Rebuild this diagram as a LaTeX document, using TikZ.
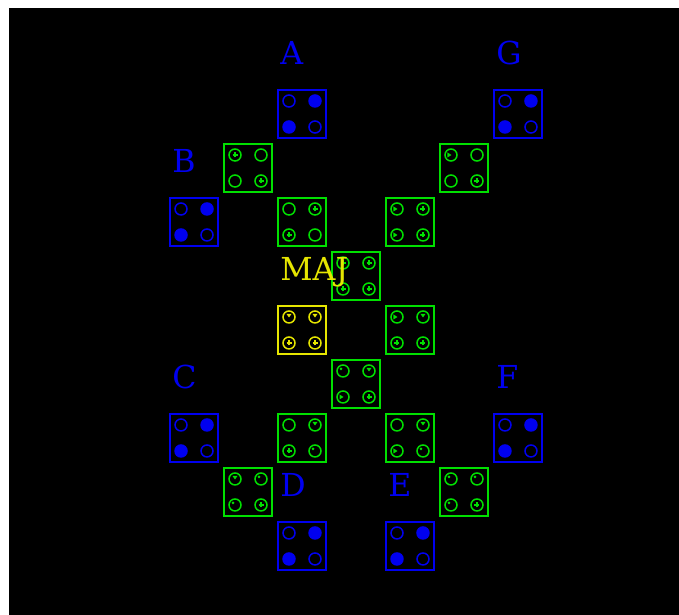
\documentclass[tikz,border=0pt]{standalone}
\usepackage{fontspec}
\setmainfont{DejaVu Serif}
\usetikzlibrary{positioning}
\definecolor{qca-blue}{HTML}{0000F0}
\definecolor{qca-green}{HTML}{00E000}
\definecolor{qca-yellow}{HTML}{E6E600}

\tikzset{
  cellbox/.style={draw, line width=1.2pt, minimum size=0.96cm, inner sep=0pt},
  dotring/.style={line width=0.85pt},
  celllabel/.style={font=\fontsize{18}{18}\selectfont, anchor=base west, inner sep=0pt},
  % one dot of a cell, with its small mark
  mk-0/.pic={\draw[dotring] (0,0) circle (0.12cm);},
  mk-f/.pic={\fill (0,0) circle (0.135cm);},
  mk-p/.pic={\draw[dotring] (0,0) circle (0.12cm);
             \draw[line width=0.7pt] (-0.05cm,0) -- (0.05cm,0) (0,-0.05cm) -- (0,0.05cm);},
  mk-d/.pic={\draw[dotring] (0,0) circle (0.12cm);
             \fill (-0.05cm,0.06cm) -- (0.05cm,0.06cm) -- (0,-0.01cm) -- cycle;},
  mk-r/.pic={\draw[dotring] (0,0) circle (0.12cm);
             \fill (-0.07cm,0.05cm) -- (-0.07cm,-0.05cm) -- (0.01cm,0) -- cycle;},
  mk-o/.pic={\draw[dotring] (0,0) circle (0.12cm);
             \fill (-0.04cm,0.04cm) circle (0.03cm);},
}

\begin{document}
\begin{tikzpicture}[x=1.08cm, y=1.08cm]
  % Grid: one unit = one cell pitch, column i at x=i, row j at y=-j
  %   cell (0,0) is B's column / A's row
  \fill[black] (-3.426,1.963) rectangle (8.982,-9.278);
  \useasboundingbox (-3.593,2.111) rectangle (8.982,-9.278);

  % cells: name / column / row / colour / marks (TL, TR, BL, BR)
  \foreach \name/\i/\j/\col/\marks in {
      A/2/0/qca-blue/{0,f,f,0},
      G/6/0/qca-blue/{0,f,f,0},
      c11/1/1/qca-green/{p,0,0,p},
      c51/5/1/qca-green/{r,0,0,p},
      B/0/2/qca-blue/{0,f,f,0},
      c22/2/2/qca-green/{0,p,p,0},
      c42/4/2/qca-green/{r,p,r,p},
      c33/3/3/qca-green/{p,p,p,p},
      maj/2/4/qca-yellow/{d,d,p,p},
      c44/4/4/qca-green/{r,d,p,p},
      c35/3/5/qca-green/{o,d,r,p},
      C/0/6/qca-blue/{0,f,f,0},
      c26/2/6/qca-green/{0,d,p,o},
      c46/4/6/qca-green/{0,d,r,o},
      F/6/6/qca-blue/{0,f,f,0},
      c17/1/7/qca-green/{d,o,o,p},
      c57/5/7/qca-green/{o,o,o,p},
      D/2/8/qca-blue/{0,f,f,0},
      E/4/8/qca-blue/{0,f,f,0}} {
    \node[cellbox, draw=\col] (\name) at (\i,-\j) {};
    \foreach \m [count=\k] in \marks {
      \pgfmathsetmacro\dx{mod(\k,2)==1 ? -0.26 : 0.26}
      \pgfmathsetmacro\dy{\k<3 ? 0.26 : -0.26}
      \pic[color=\col] at ([shift={(\dx cm,\dy cm)}]\name.center) {mk-\m};
    }
  }

  % labels sit above the top left corner of their cell
  \foreach \name/\txt/\col in {A/A/qca-blue, G/G/qca-blue, B/B/qca-blue,
      C/C/qca-blue, F/F/qca-blue, D/D/qca-blue, E/E/qca-blue, maj/MAJ/qca-yellow} {
    \node[celllabel, text=\col] (l\name) at ([shift={(0.06cm,0.49cm)}]\name.north west) {\txt};
  }
\end{tikzpicture}
\end{document}
